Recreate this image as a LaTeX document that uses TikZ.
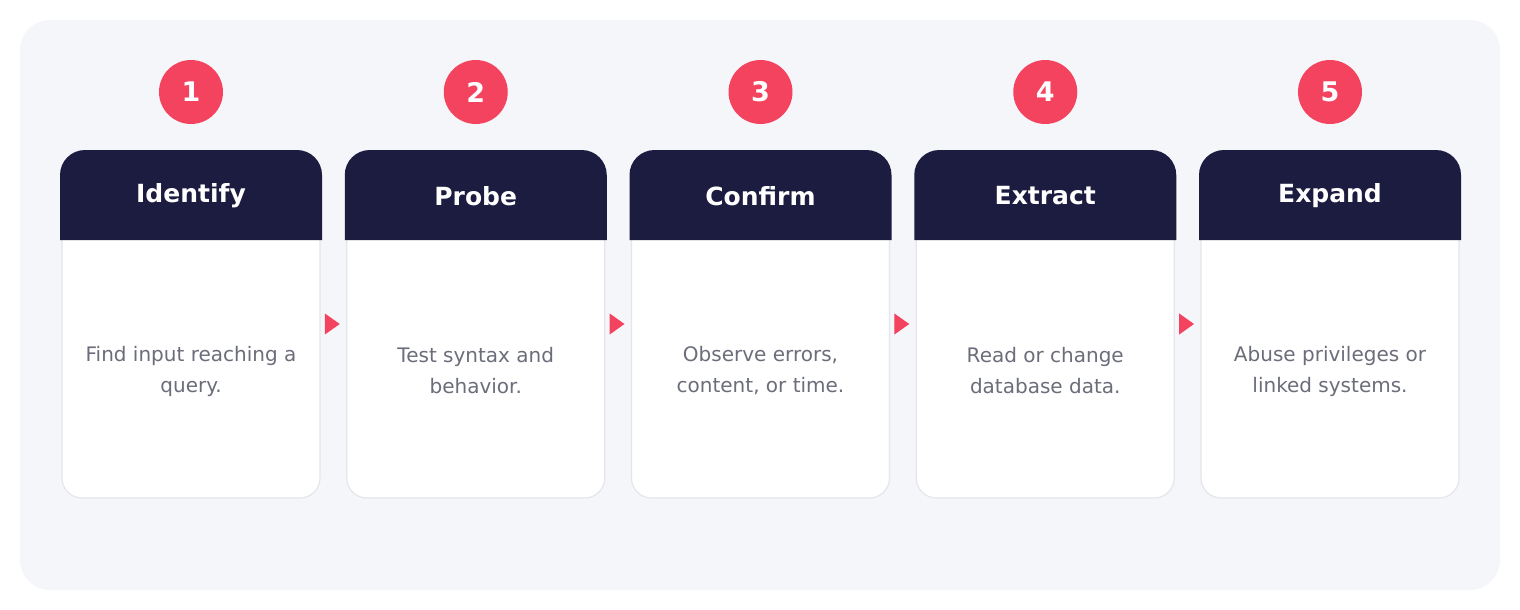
\documentclass[tikz,border=0pt]{standalone}
\usepackage{fontspec}
\setmainfont{DejaVu Sans}
\usetikzlibrary{calc,arrows.meta}
\definecolor{panel}{HTML}{F4F6FA}
\definecolor{navy}{HTML}{1B1C3F}
\definecolor{rose}{HTML}{F4435F}
\definecolor{bodygray}{HTML}{6B6E7A}
\definecolor{cardline}{HTML}{E4E6EC}
\tikzset{
  cardarea/.style={inner sep=0pt, outer sep=0pt, minimum width=262pt, minimum height=348pt, anchor=north west},
  numcirc/.style={circle, fill=rose, minimum size=64pt, inner sep=0pt, text=white, font=\fontsize{27}{30}\selectfont\bfseries},
  headtxt/.style={text=white, font=\fontsize{25}{29}\selectfont\bfseries, inner sep=0pt},
  bodytxt/.style={text=bodygray, font=\fontsize{20}{31}\selectfont, align=center, inner sep=0pt},
  flowarrow/.style={draw=rose, line width=1pt, -{Triangle[length=15pt,width=21pt]}, rose, shorten <=4pt, shorten >=5pt}
}
\newcommand\mycard[5]{%
  \node[cardarea] (c#1) at (#2,150) {};
  \fill[white, draw=cardline, line width=1.2pt, rounded corners=20pt]
    ($(c#1.north west)+(2,60)$) rectangle ($(c#1.south east)+(-2,0)$);
  \fill[navy] ($(c#1.north west)+(0,90)$) [rounded corners=25pt] -- (c#1.north west) -- (c#1.north east) [sharp corners] -- ($(c#1.north east)+(0,90)$) -- cycle;
  \node[headtxt] (h#1) at ($(c#1.north)+(0,46)$) {#3};
  \node[numcirc] (n#1) at ($(c#1.north)+(0,-58)$) {#1};
  \node[bodytxt] (t#1) at ($(c#1.north)+(0,221)$) {#4\\#5};
}
\begin{document}
\begin{tikzpicture}[x=1pt,y=-1pt]
\useasboundingbox (0,0) rectangle (1520,610);
\fill[panel, rounded corners=30pt] (20,20) rectangle (1500,590);
\mycard{1}{60}{Identify}{Find input reaching a}{query.}
\mycard{2}{344.75}{Probe}{Test syntax and}{behavior.}
\mycard{3}{629.5}{Confirm}{Observe errors,}{content, or time.}
\mycard{4}{914.25}{Extract}{Read or change}{database data.}
\mycard{5}{1199}{Expand}{Abuse privileges or}{linked systems.}
\draw[flowarrow] (c1.east) -- (c2.west);
\draw[flowarrow] (c2.east) -- (c3.west);
\draw[flowarrow] (c3.east) -- (c4.west);
\draw[flowarrow] (c4.east) -- (c5.west);
\end{tikzpicture}
\end{document}
